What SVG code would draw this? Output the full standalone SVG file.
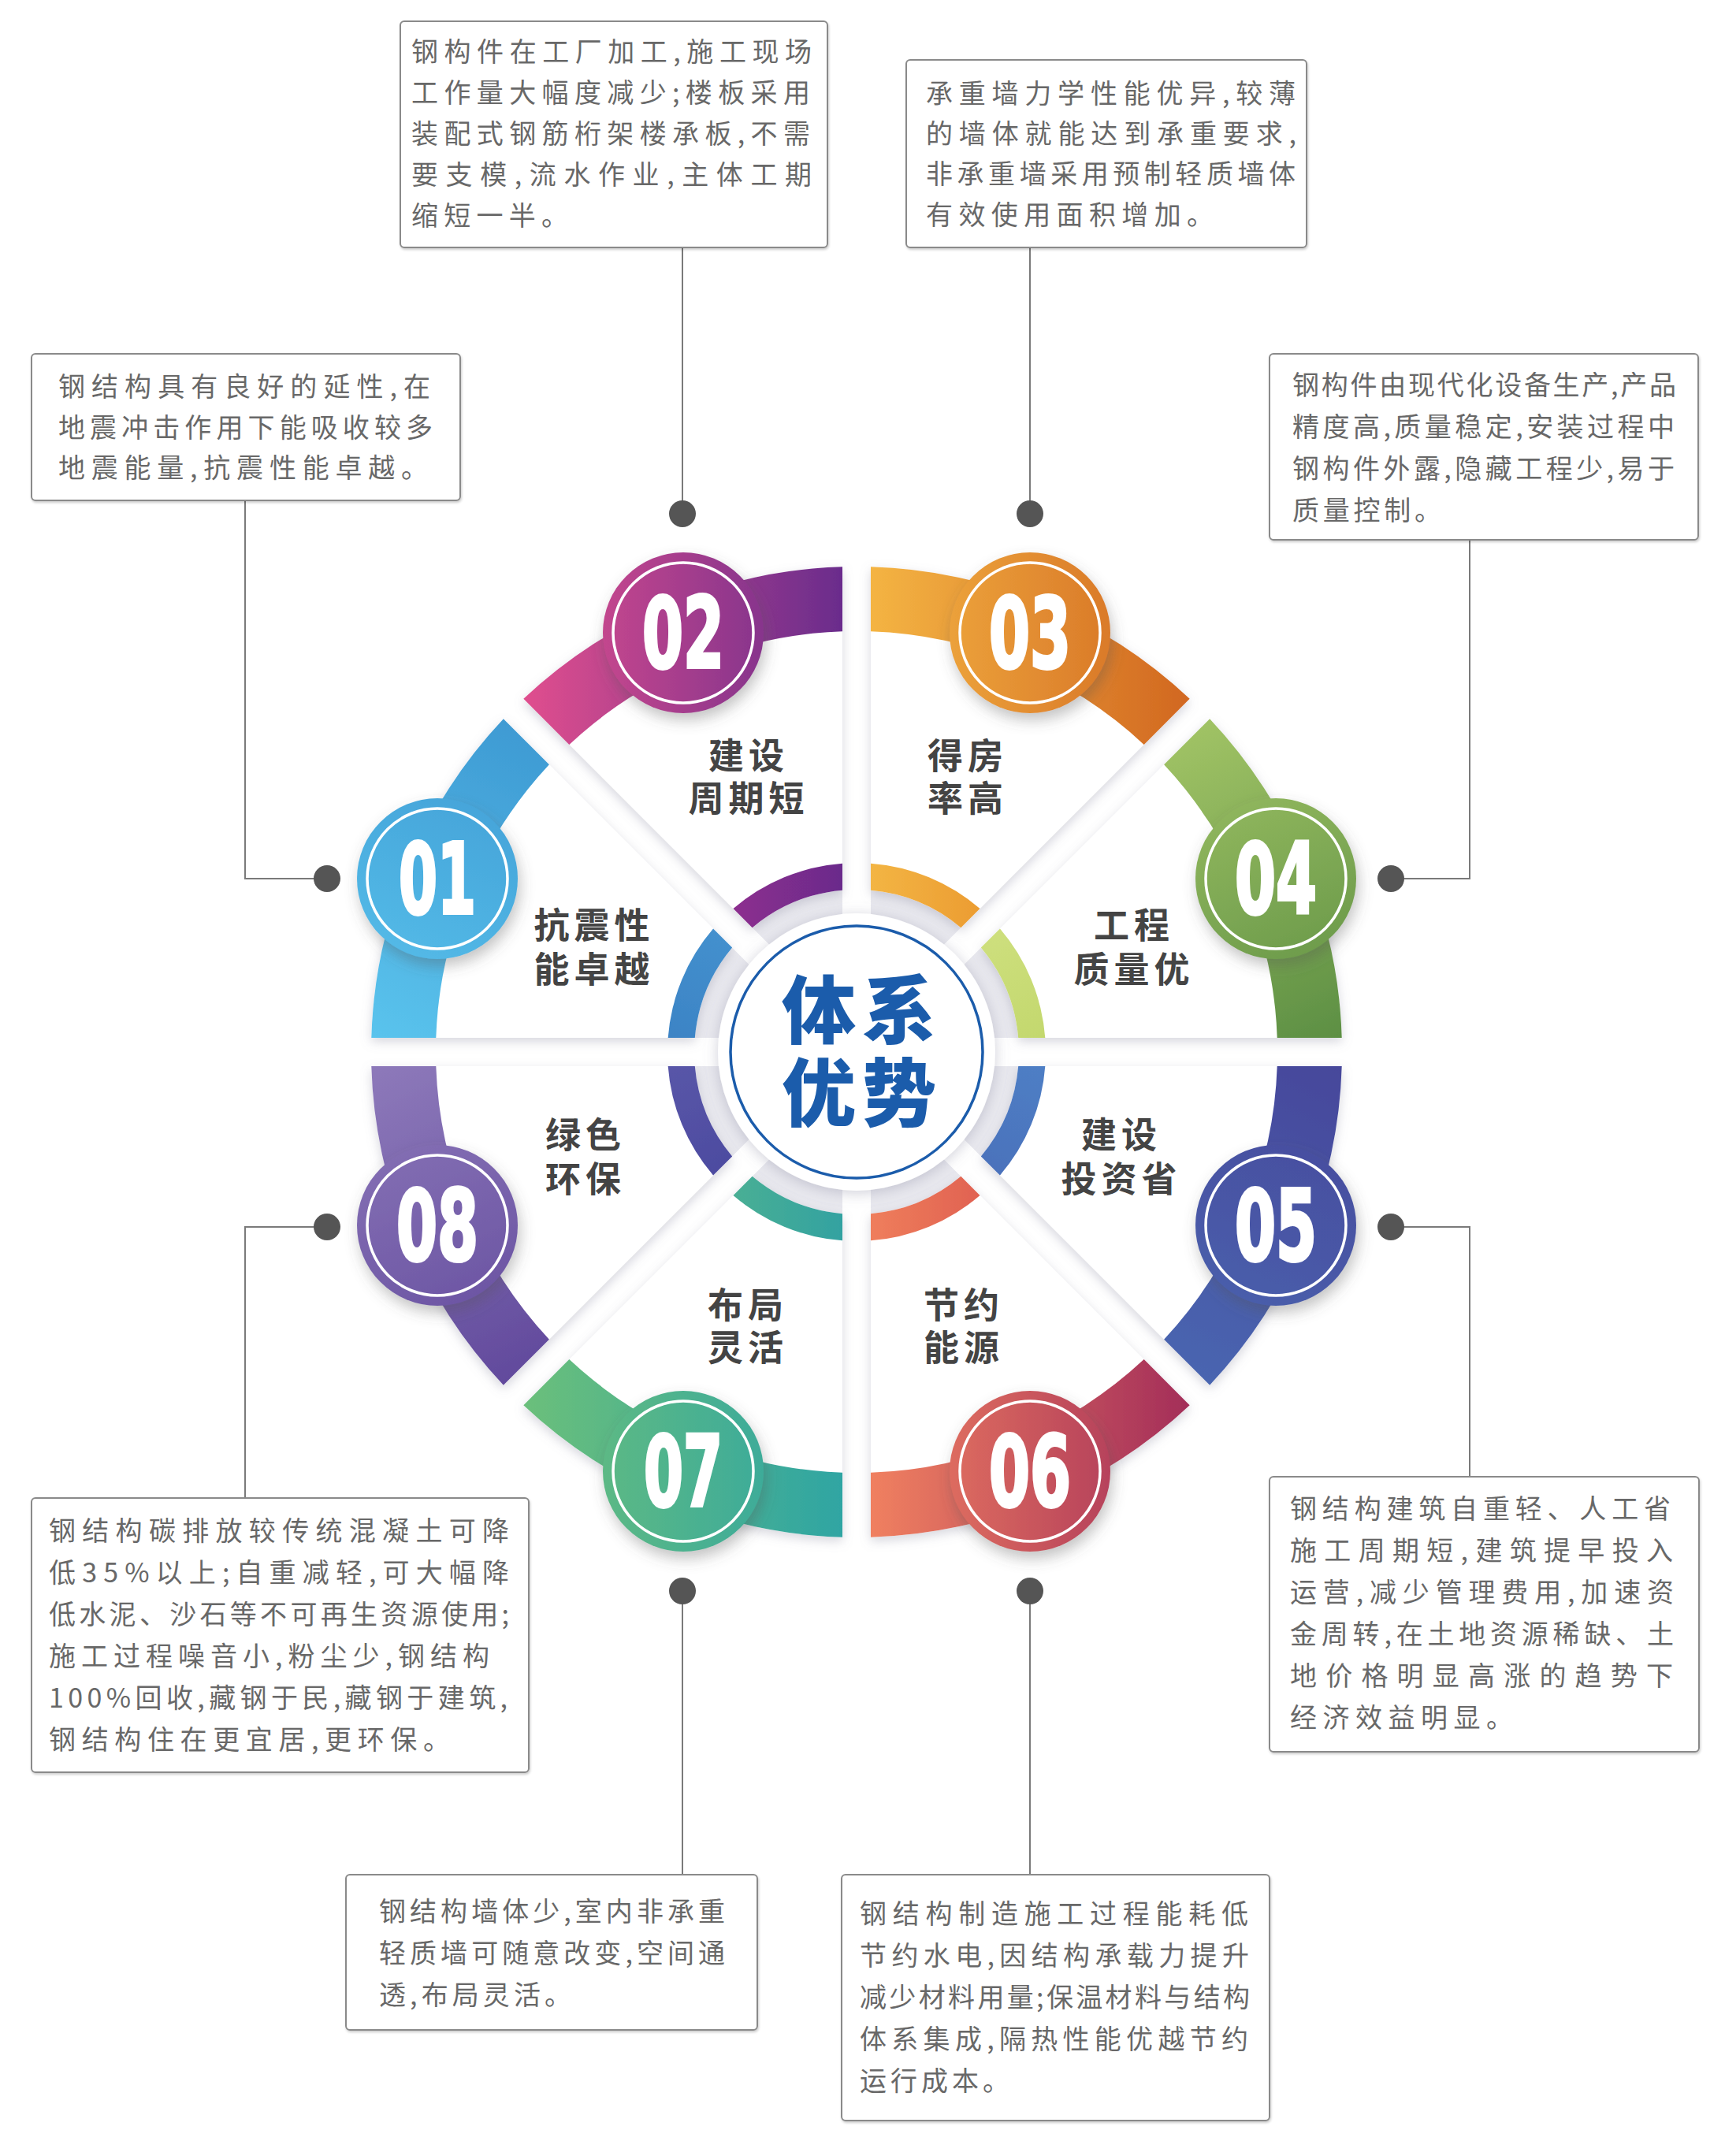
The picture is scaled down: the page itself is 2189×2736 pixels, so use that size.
<svg xmlns="http://www.w3.org/2000/svg" width="2189" height="2736" viewBox="0 0 2189 2736">
<style>
.box{fill:#fff;stroke:#8a8a8a;stroke-width:2}
.bt{font-family:"Noto Sans CJK SC","Noto Sans",sans-serif;font-size:34px;fill:#686868}
.lbl{font-family:"Noto Sans CJK SC",sans-serif;font-weight:700;font-size:45px;fill:#444;text-anchor:middle;letter-spacing:6px}
.num{font-family:"Liberation Sans Narrow","DejaVu Sans Condensed","Liberation Sans",sans-serif;font-weight:700;font-size:124px;fill:#fff;stroke:#fff;stroke-width:4;text-anchor:middle}
.ring{fill:none;stroke:#fff;stroke-width:3.5}
.panel{fill:#fff}
.conn path{fill:none;stroke:#7a7a7a;stroke-width:2}
.dot{fill:#555}
.ctr{font-family:"Noto Sans CJK SC",sans-serif;font-weight:900;font-size:94px;fill:#1b5cab;text-anchor:middle;letter-spacing:8px}
</style>
<defs>
<filter id="psh" x="-20%" y="-20%" width="140%" height="140%"><feDropShadow dx="0" dy="5" stdDeviation="7" flood-color="#8c8ca0" flood-opacity="0.35"/></filter>
<filter id="csh" x="-30%" y="-30%" width="160%" height="160%"><feDropShadow dx="3" dy="9" stdDeviation="9" flood-color="#555" flood-opacity="0.35"/></filter>
<filter id="dsh" x="-20%" y="-20%" width="140%" height="140%"><feDropShadow dx="0" dy="3" stdDeviation="9" flood-color="#777790" flood-opacity="0.35"/></filter>
<filter id="bsh" x="-5%" y="-5%" width="110%" height="115%"><feDropShadow dx="1" dy="2" stdDeviation="1.5" flood-color="#000" flood-opacity="0.2"/></filter>
<linearGradient id="g01" gradientUnits="userSpaceOnUse" x1="-616" y1="0" x2="-400" y2="-440"><stop offset="0" stop-color="#5bc5ee"/><stop offset="1" stop-color="#3c97d1"/></linearGradient>
<linearGradient id="g02" gradientUnits="userSpaceOnUse" x1="-450" y1="0" x2="-18" y2="0"><stop offset="0" stop-color="#e8518e"/><stop offset="1" stop-color="#6a2c8c"/></linearGradient>
<linearGradient id="g03" gradientUnits="userSpaceOnUse" x1="18" y1="0" x2="450" y2="0"><stop offset="0" stop-color="#f4b443"/><stop offset="1" stop-color="#cf621e"/></linearGradient>
<linearGradient id="g04" gradientUnits="userSpaceOnUse" x1="400" y1="-440" x2="616" y2="0"><stop offset="0" stop-color="#a6c768"/><stop offset="1" stop-color="#5a8d42"/></linearGradient>
<linearGradient id="g05" gradientUnits="userSpaceOnUse" x1="616" y1="0" x2="400" y2="440"><stop offset="0" stop-color="#46469a"/><stop offset="1" stop-color="#4a68b2"/></linearGradient>
<linearGradient id="g06" gradientUnits="userSpaceOnUse" x1="18" y1="0" x2="450" y2="0"><stop offset="0" stop-color="#f08060"/><stop offset="1" stop-color="#9e2859"/></linearGradient>
<linearGradient id="g07" gradientUnits="userSpaceOnUse" x1="-450" y1="0" x2="-18" y2="0"><stop offset="0" stop-color="#6fc178"/><stop offset="1" stop-color="#2fa5a3"/></linearGradient>
<linearGradient id="g08" gradientUnits="userSpaceOnUse" x1="-616" y1="0" x2="-400" y2="440"><stop offset="0" stop-color="#8f7bbb"/><stop offset="1" stop-color="#5e469a"/></linearGradient>
<linearGradient id="i01" gradientUnits="userSpaceOnUse" x1="-240" y1="0" x2="-160" y2="-170"><stop offset="0" stop-color="#3b82c4"/><stop offset="1" stop-color="#4592cf"/></linearGradient>
<linearGradient id="i02" gradientUnits="userSpaceOnUse" x1="-170" y1="0" x2="-18" y2="0"><stop offset="0" stop-color="#902f8f"/><stop offset="1" stop-color="#6a2b8b"/></linearGradient>
<linearGradient id="i03" gradientUnits="userSpaceOnUse" x1="18" y1="0" x2="170" y2="0"><stop offset="0" stop-color="#f3b544"/><stop offset="1" stop-color="#eb9a30"/></linearGradient>
<linearGradient id="i04" gradientUnits="userSpaceOnUse" x1="160" y1="-170" x2="240" y2="0"><stop offset="0" stop-color="#cfe07f"/><stop offset="1" stop-color="#c2d76c"/></linearGradient>
<linearGradient id="i05" gradientUnits="userSpaceOnUse" x1="240" y1="0" x2="160" y2="170"><stop offset="0" stop-color="#4f80c6"/><stop offset="1" stop-color="#4a70ba"/></linearGradient>
<linearGradient id="i06" gradientUnits="userSpaceOnUse" x1="18" y1="0" x2="170" y2="0"><stop offset="0" stop-color="#ef7e5c"/><stop offset="1" stop-color="#df5f50"/></linearGradient>
<linearGradient id="i07" gradientUnits="userSpaceOnUse" x1="-170" y1="0" x2="-18" y2="0"><stop offset="0" stop-color="#4bb093"/><stop offset="1" stop-color="#33a2a1"/></linearGradient>
<linearGradient id="i08" gradientUnits="userSpaceOnUse" x1="-240" y1="0" x2="-160" y2="170"><stop offset="0" stop-color="#5a57a9"/><stop offset="1" stop-color="#4b4a9f"/></linearGradient>
</defs>
<rect width="2189" height="2736" fill="#fff"/>

<g id="hub-base" transform="translate(1087 1335)">
<circle r="192" fill="none" stroke="#e8e8ee" stroke-width="34"/>
<g stroke="#fff" stroke-width="36">
<line x1="-215" y1="0" x2="215" y2="0"/>
<line x1="0" y1="-215" x2="0" y2="215"/>
<line x1="-152" y1="-152" x2="152" y2="152"/>
<line x1="152" y1="-152" x2="-152" y2="152"/>
</g>
</g>

<g id="sector-01" transform="translate(1087 1335)">
<g filter="url(#psh)">
<path class="panel" d="M-615.74,-18 A616,616 0 0 1 -448.13,-422.67 L-157.83,-132.38 A206,206 0 0 0 -205.21,-18 Z"/>
<path fill="url(#g01)" d="M-615.74,-18 A616,616 0 0 1 -448.13,-422.67 L-390.11,-364.66 A534,534 0 0 0 -533.70,-18 Z"/>
<path fill="url(#i01)" d="M-239.32,-18 A240,240 0 0 1 -181.95,-156.50 L-157.83,-132.38 A206,206 0 0 0 -205.21,-18 Z"/>
</g>
<circle cx="-532" cy="-220" r="102" fill="url(#g01)" filter="url(#csh)"/>
<circle class="ring" cx="-532" cy="-220" r="89"/>
<text class="num" x="-532" y="-176" textLength="98" lengthAdjust="spacingAndGlyphs">01</text>
<text class="lbl"><tspan x="-333" y="-144">抗震性</tspan><tspan x="-333" y="-88">能卓越</tspan></text>
</g>

<g id="sector-02" transform="translate(1087 1335)">
<g filter="url(#psh)">
<path class="panel" d="M-422.67,-448.13 A616,616 0 0 1 -18,-615.74 L-18,-205.21 A206,206 0 0 0 -132.38,-157.83 Z"/>
<path fill="url(#g02)" d="M-422.67,-448.13 A616,616 0 0 1 -18,-615.74 L-18,-533.70 A534,534 0 0 0 -364.66,-390.11 Z"/>
<path fill="url(#i02)" d="M-156.50,-181.95 A240,240 0 0 1 -18,-239.32 L-18,-205.21 A206,206 0 0 0 -132.38,-157.83 Z"/>
</g>
<circle cx="-220" cy="-532" r="102" fill="url(#g02)" filter="url(#csh)"/>
<circle class="ring" cx="-220" cy="-532" r="89"/>
<text class="num" x="-220" y="-488" textLength="104" lengthAdjust="spacingAndGlyphs">02</text>
<text class="lbl"><tspan x="-137" y="-359">建设</tspan><tspan x="-137" y="-305">周期短</tspan></text>
</g>

<g id="sector-03" transform="translate(1087 1335)">
<g filter="url(#psh)">
<path class="panel" d="M18,-615.74 A616,616 0 0 1 422.67,-448.13 L132.38,-157.83 A206,206 0 0 0 18,-205.21 Z"/>
<path fill="url(#g03)" d="M18,-615.74 A616,616 0 0 1 422.67,-448.13 L364.66,-390.11 A534,534 0 0 0 18,-533.70 Z"/>
<path fill="url(#i03)" d="M18,-239.32 A240,240 0 0 1 156.50,-181.95 L132.38,-157.83 A206,206 0 0 0 18,-205.21 Z"/>
</g>
<circle cx="220" cy="-532" r="102" fill="url(#g03)" filter="url(#csh)"/>
<circle class="ring" cx="220" cy="-532" r="89"/>
<text class="num" x="220" y="-488" textLength="104" lengthAdjust="spacingAndGlyphs">03</text>
<text class="lbl"><tspan x="141" y="-359">得房</tspan><tspan x="141" y="-305">率高</tspan></text>
</g>

<g id="sector-04" transform="translate(1087 1335)">
<g filter="url(#psh)">
<path class="panel" d="M448.13,-422.67 A616,616 0 0 1 615.74,-18 L205.21,-18 A206,206 0 0 0 157.83,-132.38 Z"/>
<path fill="url(#g04)" d="M448.13,-422.67 A616,616 0 0 1 615.74,-18 L533.70,-18 A534,534 0 0 0 390.11,-364.66 Z"/>
<path fill="url(#i04)" d="M181.95,-156.50 A240,240 0 0 1 239.32,-18 L205.21,-18 A206,206 0 0 0 157.83,-132.38 Z"/>
</g>
<circle cx="532" cy="-220" r="102" fill="url(#g04)" filter="url(#csh)"/>
<circle class="ring" cx="532" cy="-220" r="89"/>
<text class="num" x="532" y="-176" textLength="104" lengthAdjust="spacingAndGlyphs">04</text>
<text class="lbl"><tspan x="352" y="-144">工程</tspan><tspan x="352" y="-88">质量优</tspan></text>
</g>

<g id="sector-05" transform="translate(1087 1335)">
<g filter="url(#psh)">
<path class="panel" d="M615.74,18 A616,616 0 0 1 448.13,422.67 L157.83,132.38 A206,206 0 0 0 205.21,18 Z"/>
<path fill="url(#g05)" d="M615.74,18 A616,616 0 0 1 448.13,422.67 L390.11,364.66 A534,534 0 0 0 533.70,18 Z"/>
<path fill="url(#i05)" d="M239.32,18 A240,240 0 0 1 181.95,156.50 L157.83,132.38 A206,206 0 0 0 205.21,18 Z"/>
</g>
<circle cx="532" cy="220" r="102" fill="url(#g05)" filter="url(#csh)"/>
<circle class="ring" cx="532" cy="220" r="89"/>
<text class="num" x="532" y="264" textLength="104" lengthAdjust="spacingAndGlyphs">05</text>
<text class="lbl"><tspan x="336" y="122">建设</tspan><tspan x="336" y="178">投资省</tspan></text>
</g>

<g id="sector-06" transform="translate(1087 1335)">
<g filter="url(#psh)">
<path class="panel" d="M422.67,448.13 A616,616 0 0 1 18,615.74 L18,205.21 A206,206 0 0 0 132.38,157.83 Z"/>
<path fill="url(#g06)" d="M422.67,448.13 A616,616 0 0 1 18,615.74 L18,533.70 A534,534 0 0 0 364.66,390.11 Z"/>
<path fill="url(#i06)" d="M156.50,181.95 A240,240 0 0 1 18,239.32 L18,205.21 A206,206 0 0 0 132.38,157.83 Z"/>
</g>
<circle cx="220" cy="532" r="102" fill="url(#g06)" filter="url(#csh)"/>
<circle class="ring" cx="220" cy="532" r="89"/>
<text class="num" x="220" y="576" textLength="104" lengthAdjust="spacingAndGlyphs">06</text>
<text class="lbl"><tspan x="136" y="338">节约</tspan><tspan x="136" y="392">能源</tspan></text>
</g>

<g id="sector-07" transform="translate(1087 1335)">
<g filter="url(#psh)">
<path class="panel" d="M-18,615.74 A616,616 0 0 1 -422.67,448.13 L-132.38,157.83 A206,206 0 0 0 -18,205.21 Z"/>
<path fill="url(#g07)" d="M-18,615.74 A616,616 0 0 1 -422.67,448.13 L-364.66,390.11 A534,534 0 0 0 -18,533.70 Z"/>
<path fill="url(#i07)" d="M-18,239.32 A240,240 0 0 1 -156.50,181.95 L-132.38,157.83 A206,206 0 0 0 -18,205.21 Z"/>
</g>
<circle cx="-220" cy="532" r="102" fill="url(#g07)" filter="url(#csh)"/>
<circle class="ring" cx="-220" cy="532" r="89"/>
<text class="num" x="-220" y="576" textLength="100" lengthAdjust="spacingAndGlyphs">07</text>
<text class="lbl"><tspan x="-138" y="338">布局</tspan><tspan x="-138" y="392">灵活</tspan></text>
</g>

<g id="sector-08" transform="translate(1087 1335)">
<g filter="url(#psh)">
<path class="panel" d="M-448.13,422.67 A616,616 0 0 1 -615.74,18 L-205.21,18 A206,206 0 0 0 -157.83,132.38 Z"/>
<path fill="url(#g08)" d="M-448.13,422.67 A616,616 0 0 1 -615.74,18 L-533.70,18 A534,534 0 0 0 -390.11,364.66 Z"/>
<path fill="url(#i08)" d="M-181.95,156.50 A240,240 0 0 1 -239.32,18 L-205.21,18 A206,206 0 0 0 -157.83,132.38 Z"/>
</g>
<circle cx="-532" cy="220" r="102" fill="url(#g08)" filter="url(#csh)"/>
<circle class="ring" cx="-532" cy="220" r="89"/>
<text class="num" x="-532" y="264" textLength="104" lengthAdjust="spacingAndGlyphs">08</text>
<text class="lbl"><tspan x="-344" y="122">绿色</tspan><tspan x="-344" y="178">环保</tspan></text>
</g>

<g id="center" transform="translate(1087 1335)">
<circle r="176" fill="#fff" filter="url(#dsh)"/>
<circle r="160" fill="none" stroke="#1b5cab" stroke-width="3.5"/>
<text class="ctr"><tspan x="7" y="-18">体系</tspan><tspan x="7" y="87">优势</tspan></text>
</g>

<g id="connectors" class="conn">
<path d="M311,635 V1115 H415"/>
<path d="M866,314 V652"/>
<path d="M1307,314 V652"/>
<path d="M1865,685 V1115 H1765"/>
<path d="M1865,1874 V1557 H1765"/>
<path d="M1307,2379 V2019"/>
<path d="M866,2379 V2019"/>
<path d="M311,1901 V1557 H415"/>
<circle class="dot" cx="415" cy="1115" r="17"/>
<circle class="dot" cx="866" cy="652" r="17"/>
<circle class="dot" cx="1307" cy="652" r="17"/>
<circle class="dot" cx="1765" cy="1115" r="17"/>
<circle class="dot" cx="1765" cy="1557" r="17"/>
<circle class="dot" cx="1307" cy="2019" r="17"/>
<circle class="dot" cx="866" cy="2019" r="17"/>
<circle class="dot" cx="415" cy="1557" r="17"/>
</g>

<g id="note-01">
<rect class="box" x="40" y="449" width="544" height="186" rx="5" filter="url(#bsh)"/>
<text class="bt" x="74" y="503" textLength="472" lengthAdjust="spacing">钢结构具有良好的延性,在</text>
<text class="bt" x="74" y="555" textLength="475" lengthAdjust="spacing">地震冲击作用下能吸收较多</text>
<text class="bt" x="74" y="606" textLength="469" lengthAdjust="spacing">地震能量,抗震性能卓越。</text>
</g>

<g id="note-02">
<rect class="box" x="508" y="27" width="542" height="287" rx="5" filter="url(#bsh)"/>
<text class="bt" x="522" y="78" textLength="508" lengthAdjust="spacing">钢构件在工厂加工,施工现场</text>
<text class="bt" x="522" y="130" textLength="506" lengthAdjust="spacing">工作量大幅度减少;楼板采用</text>
<text class="bt" x="522" y="182" textLength="506" lengthAdjust="spacing">装配式钢筋桁架楼承板,不需</text>
<text class="bt" x="522" y="234" textLength="508" lengthAdjust="spacing">要支模,流水作业,主体工期</text>
<text class="bt" x="522" y="286" textLength="199" lengthAdjust="spacing">缩短一半。</text>
</g>

<g id="note-03">
<rect class="box" x="1150" y="76" width="508" height="238" rx="5" filter="url(#bsh)"/>
<text class="bt" x="1175" y="131" textLength="469" lengthAdjust="spacing">承重墙力学性能优异,较薄</text>
<text class="bt" x="1175" y="182" textLength="470" lengthAdjust="spacing">的墙体就能达到承重要求,</text>
<text class="bt" x="1175" y="233" textLength="469" lengthAdjust="spacing">非承重墙采用预制轻质墙体</text>
<text class="bt" x="1175" y="285" textLength="365" lengthAdjust="spacing">有效使用面积增加。</text>
</g>

<g id="note-04">
<rect class="box" x="1611" y="449" width="544" height="236" rx="5" filter="url(#bsh)"/>
<text class="bt" x="1640" y="501" textLength="487" lengthAdjust="spacing">钢构件由现代化设备生产,产品</text>
<text class="bt" x="1640" y="554" textLength="485" lengthAdjust="spacing">精度高,质量稳定,安装过程中</text>
<text class="bt" x="1640" y="607" textLength="485" lengthAdjust="spacing">钢构件外露,隐藏工程少,易于</text>
<text class="bt" x="1640" y="660" textLength="189" lengthAdjust="spacing">质量控制。</text>
</g>

<g id="note-05">
<rect class="box" x="1611" y="1874" width="545" height="349" rx="5" filter="url(#bsh)"/>
<text class="bt" x="1637" y="1927" textLength="483" lengthAdjust="spacing">钢结构建筑自重轻、人工省</text>
<text class="bt" x="1637" y="1980" textLength="486" lengthAdjust="spacing">施工周期短,建筑提早投入</text>
<text class="bt" x="1637" y="2033" textLength="487" lengthAdjust="spacing">运营,减少管理费用,加速资</text>
<text class="bt" x="1637" y="2086" textLength="487" lengthAdjust="spacing">金周转,在土地资源稀缺、土</text>
<text class="bt" x="1637" y="2139" textLength="486" lengthAdjust="spacing">地价格明显高涨的趋势下</text>
<text class="bt" x="1637" y="2192" textLength="283" lengthAdjust="spacing">经济效益明显。</text>
</g>

<g id="note-06">
<rect class="box" x="1068" y="2379" width="543" height="312" rx="5" filter="url(#bsh)"/>
<text class="bt" x="1091" y="2441" textLength="493" lengthAdjust="spacing">钢结构制造施工过程能耗低</text>
<text class="bt" x="1091" y="2494" textLength="494" lengthAdjust="spacing">节约水电,因结构承载力提升</text>
<text class="bt" x="1091" y="2547" textLength="495" lengthAdjust="spacing">减少材料用量;保温材料与结构</text>
<text class="bt" x="1091" y="2600" textLength="493" lengthAdjust="spacing">体系集成,隔热性能优越节约</text>
<text class="bt" x="1091" y="2653" textLength="190" lengthAdjust="spacing">运行成本。</text>
</g>

<g id="note-07">
<rect class="box" x="439" y="2379" width="522" height="197" rx="5" filter="url(#bsh)"/>
<text class="bt" x="481" y="2438" textLength="439" lengthAdjust="spacing">钢结构墙体少,室内非承重</text>
<text class="bt" x="481" y="2491" textLength="439" lengthAdjust="spacing">轻质墙可随意改变,空间通</text>
<text class="bt" x="481" y="2544" textLength="244" lengthAdjust="spacing">透,布局灵活。</text>
</g>

<g id="note-08">
<rect class="box" x="40" y="1901" width="631" height="348" rx="5" filter="url(#bsh)"/>
<text class="bt" x="62" y="1955" textLength="584" lengthAdjust="spacing">钢结构碳排放较传统混凝土可降</text>
<text class="bt" x="62" y="2008" textLength="584" lengthAdjust="spacing">低35%以上;自重减轻,可大幅降</text>
<text class="bt" x="62" y="2061" textLength="584" lengthAdjust="spacing">低水泥、沙石等不可再生资源使用;</text>
<text class="bt" x="62" y="2114" textLength="559" lengthAdjust="spacing">施工过程噪音小,粉尘少,钢结构</text>
<text class="bt" x="62" y="2167" textLength="582" lengthAdjust="spacing">100%回收,藏钢于民,藏钢于建筑,</text>
<text class="bt" x="62" y="2220" textLength="509" lengthAdjust="spacing">钢结构住在更宜居,更环保。</text>
</g>
</svg>
